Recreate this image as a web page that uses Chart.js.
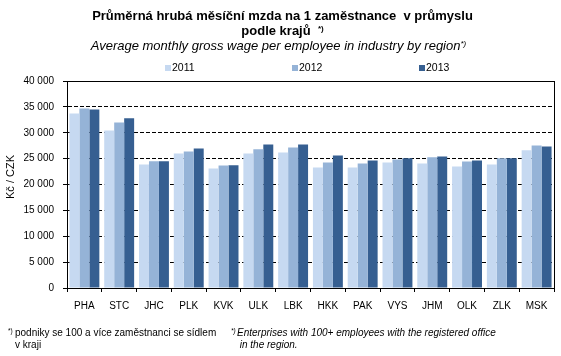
<!DOCTYPE html>
<html><head><meta charset="utf-8">
<script src="https://cdn.jsdelivr.net/npm/chart.js@4/dist/chart.umd.min.js"></script>
<style>
html,body{margin:0;padding:0;background:#fff;}
#wrap{position:relative;width:561px;height:356px;overflow:hidden;font-family:"Liberation Sans",Arial,sans-serif;color:#000;}
canvas{position:absolute;left:0;top:0;}
.t{position:absolute;left:0;width:565px;text-align:center;white-space:pre;}
.sup{position:relative;top:-4px;font-size:8px;}
.lg{position:absolute;top:61px;font-size:10.5px;line-height:13px;white-space:pre;}
.lg i{display:inline-block;width:6px;height:6px;margin-right:1px;vertical-align:0px;}
.fn{position:absolute;font-size:10px;line-height:11.5px;white-space:pre;}
.fs{position:absolute;font-size:6.5px;}
#ytitle{position:absolute;left:10px;top:176.5px;width:0;height:0;}
#ytitle span{position:absolute;left:0;top:0;transform:translate(-50%,-50%) rotate(-90deg);font-size:11px;line-height:13px;white-space:pre;}
</style></head>
<body>
<div id="wrap">
<canvas id="c" width="561" height="356"></canvas>
<div class="t" style="top:9px;font-weight:bold;font-size:13px;line-height:14.5px;">Průměrná hrubá měsíční mzda na 1 zaměstnance  v průmyslu
podle krajů  <span class="sup">*)</span></div>
<div class="t" style="top:39px;font-style:italic;font-size:13px;line-height:14px;left:-4px;">Average monthly gross wage per employee in industry by region<span class="sup">*)</span></div>
<div id="legend"></div>
<div id="ytitle"><span id="ytext"></span></div>
<span class="fs" style="left:8px;top:327px;">*)</span>
<div class="fn" style="left:15px;top:327px;">podniky se 100 a více zaměstnanci se sídlem
v kraji</div>
<span class="fs" style="left:231px;top:327px;font-style:italic;">*)</span>
<div class="fn" style="left:237px;top:327px;font-style:italic;">Enterprises with 100+ employees with the registered office
 in the region.</div>
</div>
<script>
const categories = ["PHA","STC","JHC","PLK","KVK","ULK","LBK","HKK","PAK","VYS","JHM","OLK","ZLK","MSK"];
const seriesNames = ["2011","2012","2013"];
const values2011 = [33700,30450,23850,26000,23100,26000,26200,23300,23300,24250,24050,23500,23850,26600];
const values2012 = [34700,32000,24500,26400,23650,26800,27150,24250,24050,24850,25250,24450,25050,27550];
const values2013 = [34500,32800,24500,26950,23700,27750,27750,25600,24650,25050,25400,24650,25050,27350];
const yTicks = [0,5000,10000,15000,20000,25000,30000,35000,40000];
const yAxisTitle = "Kč / CZK";
const colors = ["#C6D9F1","#95B3D7","#365F91"];
const legendX = [165,292,419];

document.getElementById('ytext').textContent = yAxisTitle;
const lg = document.getElementById('legend');
seriesNames.forEach((n,i)=>{
  const s = document.createElement('span');
  s.className='lg'; s.style.left=legendX[i]+'px';
  s.innerHTML = '<i style="background:'+colors[i]+'"></i>'+n;
  lg.appendChild(s);
});

const fmt = v => String(v).replace(/\B(?=(\d{3})+(?!\d))/g,' ');

const frame = {
  id:'frame',
  afterDatasetsDraw(chart){
    const {ctx, chartArea:a} = chart;
    ctx.save();
    ctx.strokeStyle='#000'; ctx.lineWidth=1; ctx.setLineDash([]);
    ctx.strokeRect(Math.round(a.left)+0.5, Math.round(a.top)+0.5, Math.round(a.right)-Math.round(a.left), Math.round(a.bottom)-Math.round(a.top));
    ctx.restore();
  }
};

new Chart(document.getElementById('c'), {
  type:'bar',
  data:{
    labels: categories,
    datasets:[
      {label:seriesNames[0], data:values2011, backgroundColor:colors[0]},
      {label:seriesNames[1], data:values2012, backgroundColor:colors[1]},
      {label:seriesNames[2], data:values2013, backgroundColor:colors[2]}
    ]
  },
  options:{
    responsive:false, animation:false, devicePixelRatio:1,
    categoryPercentage:0.86, barPercentage:1.0,
    layout:{padding:{top:81,left:0,right:7,bottom:43}},
    plugins:{legend:{display:false}, tooltip:{enabled:false}},
    scales:{
      x:{
        afterFit(s){ s.height = 25; },
        grid:{display:true, drawOnChartArea:false, drawTicks:true, tickLength:4, tickColor:'#000', offset:true},
        border:{display:true, color:'#000'},
        ticks:{color:'#000', font:{family:'"Liberation Sans", Arial, sans-serif', size:10}, padding:8, maxRotation:0, autoSkip:false}
      },
      y:{
        min:0, max:40000,
        afterFit(s){ s.width = 67; },
        afterBuildTicks(s){ s.ticks = yTicks.map(v=>({value:v})); },
        grid:{color:'#000', lineWidth:1, tickLength:4, tickColor:'#000', tickBorderDash:[]},
        border:{display:true, color:'#000', dash:[4,2]},
        ticks:{color:'#000', font:{family:'"Liberation Sans", Arial, sans-serif', size:10}, padding:9, callback:v=>fmt(v)},
        title:{display:false}
      }
    }
  },
  plugins:[frame]
});
</script>
</body></html>
